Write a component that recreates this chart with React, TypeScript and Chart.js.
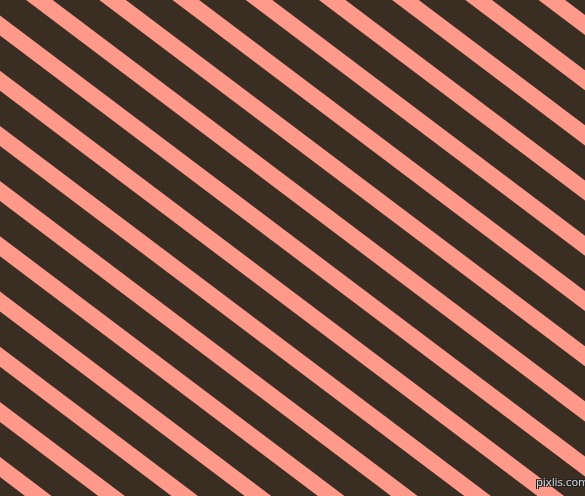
import React, { useEffect, useRef } from "react";
import { Chart, registerables } from "chart.js";

Chart.register(...registerables);

// Stripe geometry (pixel space, y down)
const X_RANGE = [0, 585];
const Y_RANGE = [0, 496];
const SLOPE = 0.754; // vertical drop per horizontal pixel
// y of each pink stripe's centre line where it meets x = 0
const STRIPE_INTERCEPTS = [
  -471.3, -416.1, -360.9, -305.7, -250.5, -195.3, -140.1, -84.9, -29.7,
  25.5, 80.7, 135.9, 191.1, 246.3, 301.5, 356.7, 411.9, 467.1, 522.3,
];
const STRIPE_THICKNESS = 16; // perpendicular width of a pink stripe
const PINK = "#FF9A8B";
const DARK = "#3A2E23";
const WATERMARK = "pixlis.com";

export default function App() {
  const ref = useRef<HTMLCanvasElement | null>(null);

  useEffect(() => {
    document.body.style.margin = "0";
    const canvas = ref.current;
    if (!canvas) return;
    const x0 = X_RANGE[0] - 60;
    const x1 = X_RANGE[1] + 60;
    const datasets = STRIPE_INTERCEPTS.map((c, i) => ({
      label: "stripe " + i,
      data: [
        { x: x0, y: c + SLOPE * x0 },
        { x: x1, y: c + SLOPE * x1 },
      ],
      borderColor: PINK,
      backgroundColor: PINK,
      borderWidth: STRIPE_THICKNESS,
      borderCapStyle: "butt" as const,
      pointRadius: 0,
      showLine: true,
      fill: false,
      tension: 0,
    }));
    const chart = new Chart(canvas, {
      type: "scatter",
      data: { datasets },
      options: {
        animation: false,
        responsive: false,
        maintainAspectRatio: false,
        layout: { padding: 0 },
        plugins: {
          legend: { display: false },
          tooltip: { enabled: false },
          title: { display: false },
        },
        events: [],
        scales: {
          x: {
            type: "linear",
            min: X_RANGE[0],
            max: X_RANGE[1],
            display: false,
          },
          y: {
            type: "linear",
            min: Y_RANGE[0],
            max: Y_RANGE[1],
            reverse: true,
            display: false,
          },
        },
      },
    });
    return () => chart.destroy();
  }, []);

  return (
    <div
      style={{
        position: "relative",
        width: 585,
        height: 496,
        background: DARK,
        overflow: "hidden",
      }}
    >
      <canvas
        ref={ref}
        width={585}
        height={496}
        style={{ display: "block", width: 585, height: 496 }}
      />
      <div
        style={{
          position: "absolute",
          left: 536,
          top: 476,
          fontFamily: "'DejaVu Sans', sans-serif",
          fontSize: 11,
          color: "#d0d0d0",
          textShadow: "1px 1px 0 #222, -1px -1px 0 #222, 1px -1px 0 #222, -1px 1px 0 #222",
          lineHeight: "14px",
          letterSpacing: "-0.3px",
        }}
      >
        {WATERMARK}
      </div>
    </div>
  );
}
